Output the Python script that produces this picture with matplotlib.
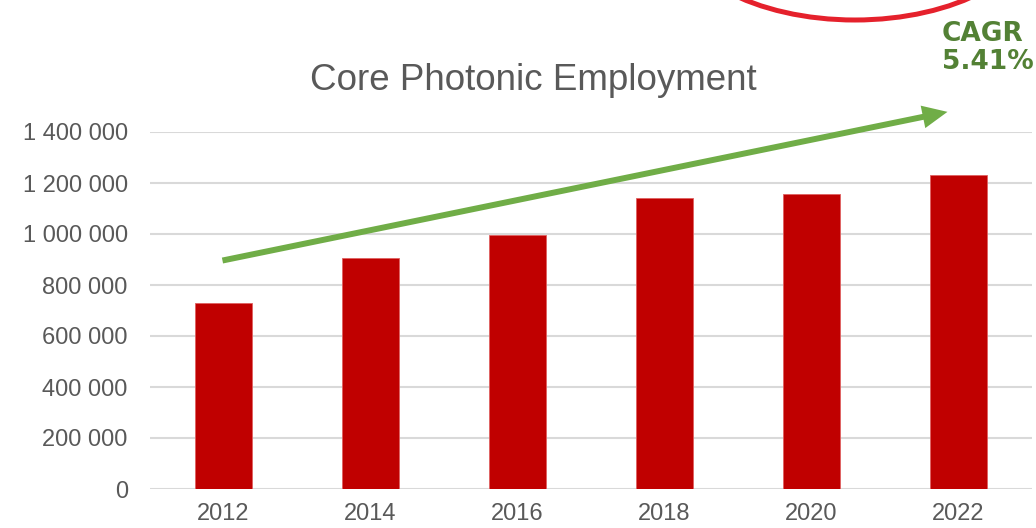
import matplotlib.pyplot as plt
from matplotlib.patches import Ellipse
from matplotlib.ticker import FuncFormatter

plt.rcParams['font.family'] = ['Liberation Sans', 'DejaVu Sans']

# Data
years = ["2012", "2014", "2016", "2018", "2020", "2022"]
employment = [728000, 905000, 995000, 1140000, 1155000, 1230000]
y_ticks = [0, 200000, 400000, 600000, 800000, 1000000, 1200000, 1400000]
cagr_label = "CAGR\n5.41%"

fig = plt.figure(figsize=(10.36, 5.28), dpi=100)
ax = fig.add_axes([150 / 1036, 1 - 489 / 528, 882 / 1036, (489 - 132) / 528])

x = list(range(len(years)))
ax.bar(x, employment, width=0.39, color="#C00000", edgecolor="#E06060", linewidth=0.6, zorder=3)

ax.set_xlim(-0.5, len(years) - 0.5)
ax.set_ylim(0, 1400000)
ax.set_xticks(x)
ax.set_xticklabels(years)
ax.set_yticks(y_ticks)
ax.yaxis.set_major_formatter(FuncFormatter(lambda v, p: f"{v:,.0f}".replace(",", " ")))

ax.grid(axis="y", color="#D9D9D9", linewidth=1.5, zorder=0)
for s in ax.spines.values():
    s.set_visible(False)
ax.tick_params(axis="both", length=0, labelsize=17, colors="#595959")
ax.tick_params(axis="y", pad=16)
ax.tick_params(axis="x", pad=10)

fig.text(533 / 1036, 1 - 80 / 528, "Core Photonic Employment", ha="center", va="center",
         fontsize=26.5, color="#595959")

# trend arrow
ax.annotate("", xy=(4.925, 1479000), xytext=(-0.007, 896000), annotation_clip=False,
            arrowprops=dict(width=4.3, headwidth=16.5, headlength=18, shrink=0,
                            color="#70AD47", linewidth=0))

# red circle highlight at the top
fig.add_artist(Ellipse((855 / 1036, 1 + 80 / 528), 2 * 183 / 1036, 200 / 528,
                       transform=fig.transFigure, fill=False, edgecolor="#E5212C", linewidth=3.6))

fig.text(942 / 1036, 1 - 48 / 528, cagr_label, ha="left", va="center", fontsize=19,
         fontweight="bold", color="#538135", family="DejaVu Sans", linespacing=1.1)

fig.savefig("out.png", dpi=100)
